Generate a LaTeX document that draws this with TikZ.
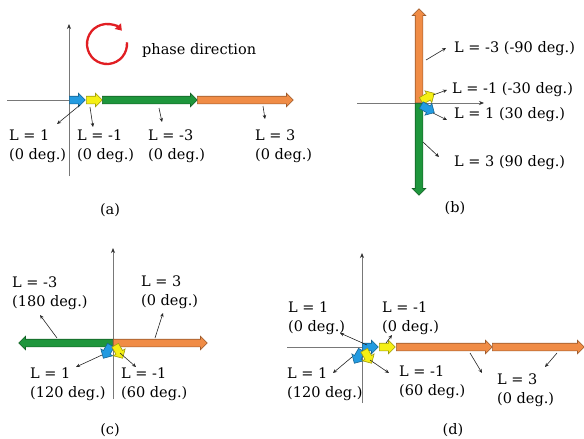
\documentclass[tikz,border=0pt]{standalone}
\usepackage{fontspec}
\setmainfont{DejaVu Serif}
\usetikzlibrary{shapes.arrows,arrows.meta,calc}
\definecolor{cblue}{RGB}{35,155,225}
\definecolor{cyel}{RGB}{245,240,20}
\definecolor{cgreen}{RGB}{30,150,60}
\definecolor{corange}{RGB}{240,140,70}
\definecolor{cred}{RGB}{225,30,35}
\definecolor{caxis}{RGB}{120,120,120}
\tikzset{
  barrow/.style={shape=single arrow, draw=#1!65!black, fill=#1, line width=0.6pt,
    inner xsep=0pt, inner ysep=3.5pt, single arrow head extend=3pt,
    single arrow tip angle=90, anchor=tail, minimum width=13pt},
  axisline/.style={draw=caxis, line width=0.8pt, -{Stealth[length=5pt,width=4pt,color=black!80]}},
  plainaxis/.style={draw=caxis, line width=0.8pt},
  leader/.style={draw=black!85, line width=0.6pt, -{Stealth[length=4pt,width=3.5pt]}},
  lbl/.style={font=\fontsize{14.5}{18.5}\selectfont, align=left, anchor=west, inner sep=0pt},
  captxt/.style={font=\fontsize{14.5}{18.5}\selectfont, inner sep=0pt}
}
\begin{document}
\begin{tikzpicture}[x=1pt,y=-1pt]
\useasboundingbox[fill=white] (0,0) rectangle (584,439);
% ---------- (a) ----------
\coordinate (oa) at (69,100);
\coordinate (axt) at (69,24);
\coordinate (axb) at (69,176);
\coordinate (axl) at (7,100);
\draw[axisline] (axb) -- (axt);
\draw[plainaxis] (axl) -- (oa);
\coordinate (rc) at (107,44);
\draw[cred, line width=2.3pt, -{Triangle[length=6pt,width=8pt]}] ($(rc)+(-5:20)$) coordinate (rs) arc[start angle=-5, end angle=318, radius=20];
\node[lbl] (phase) at (142,50) {phase direction};
\node[barrow=cblue, minimum height=16pt] (aB) at (oa) {};
\node[barrow=cyel, minimum height=16pt] (aY) at (86,100) {};
\node[barrow=cgreen, minimum height=95pt] (aG) at (102,100) {};
\node[barrow=corange, minimum height=96pt] (aO) at (197,100) {};
\node[lbl] (Ta1) at (9,146) {L = 1\\(0 deg.)};
\node[lbl] (Ta2) at (77,146) {L = -1\\(0 deg.)};
\node[lbl] (Ta3) at (148,146) {L = -3\\(0 deg.)};
\node[lbl] (Ta4) at (255,146) {L = 3\\(0 deg.)};
\coordinate (la1s) at (80,105); \coordinate (la1e) at (57,124);
\coordinate (la2s) at (90,107); \coordinate (la2e) at (93,127);
\coordinate (la3s) at (159,108); \coordinate (la3e) at (162,122);
\coordinate (la4s) at (263,106); \coordinate (la4e) at (265,119);
\draw[leader] (la1s) -- (la1e);
\draw[leader] (la2s) -- (la2e);
\draw[leader] (la3s) -- (la3e);
\draw[leader] (la4s) -- (la4e);
\node[captxt] (capa) at (110,210) {(a)};
% ---------- (b) ----------
\coordinate (ob) at (419,103);
\coordinate (bxl) at (357,103);
\coordinate (bxr) at (484,103);
\draw[axisline] (bxl) -- (bxr);
\node[barrow=corange, minimum height=94pt, rotate=90] (bO) at (ob) {};
\node[barrow=cgreen, minimum height=92pt, rotate=-90] (bG) at (ob) {};
\node[barrow=cyel, minimum height=15pt, rotate=30] (bY) at (421,101) {};
\node[barrow=cblue, minimum height=15pt, rotate=-30] (bB) at (421,105) {};
\node[lbl] (Tb1) at (454,49) {L = -3 (-90 deg.)};
\node[lbl] (Tb2) at (452,90) {L = -1 (-30 deg.)};
\node[lbl] (Tb3) at (454,115) {L = 1 (30 deg.)};
\node[lbl] (Tb4) at (454,163) {L = 3 (90 deg.)};
\coordinate (lb1s) at (426,60); \coordinate (lb1e) at (446,48);
\coordinate (lb2s) at (433,95); \coordinate (lb2e) at (447,90);
\coordinate (lb3s) at (433,113); \coordinate (lb3e) at (447,120);
\coordinate (lb4s) at (423,142); \coordinate (lb4e) at (439,157);
\draw[leader] (lb1s) -- (lb1e);
\draw[leader] (lb2s) -- (lb2e);
\draw[leader] (lb3s) -- (lb3e);
\draw[leader] (lb4s) -- (lb4e);
\node[captxt] (capb) at (455,208) {(b)};
% ---------- (c) ----------
\coordinate (oc) at (113,343);
\coordinate (cxt) at (113,248);
\coordinate (cxb) at (113,399);
\draw[axisline] (cxb) -- (cxt);
\node[barrow=cgreen, minimum height=94pt, rotate=180] (cG) at (oc) {};
\node[barrow=corange, minimum height=94pt] (cO) at (oc) {};
\node[barrow=cblue, minimum height=15pt, rotate=-120] (cB) at (111,345) {};
\node[barrow=cyel, minimum height=15pt, rotate=-60] (cY) at (115,345) {};
\node[lbl] (Tc1) at (12,293) {L = -3\\(180 deg.)};
\node[lbl] (Tc2) at (141,292) {L = 3\\(0 deg.)};
\node[lbl] (Tc3) at (30,384) {L = 1\\(120 deg.)};
\node[lbl] (Tc4) at (121,384) {L = -1\\(60 deg.)};
\coordinate (lc1s) at (57,338); \coordinate (lc1e) at (40,315);
\coordinate (lc2s) at (155,338); \coordinate (lc2e) at (163,313);
\coordinate (lc3s) at (102,355); \coordinate (lc3e) at (76,367);
\coordinate (lc4s) at (120,353); \coordinate (lc4e) at (136,367);
\draw[leader] (lc1s) -- (lc1e);
\draw[leader] (lc2s) -- (lc2e);
\draw[leader] (lc3s) -- (lc3e);
\draw[leader] (lc4s) -- (lc4e);
\node[captxt] (capc) at (110,430) {(c)};
% ---------- (d) ----------
\coordinate (od) at (362,347);
\coordinate (dxt) at (362,253);
\coordinate (dxb) at (362,403);
\coordinate (dxl) at (287,347);
\draw[axisline] (dxb) -- (dxt);
\draw[plainaxis] (dxl) -- (od);
\node[barrow=cblue, minimum height=16pt] (dB) at (od) {};
\node[barrow=cyel, minimum height=16pt] (dY) at (379,347) {};
\node[barrow=corange, minimum height=96pt] (dO1) at (396,347) {};
\node[barrow=corange, minimum height=92pt] (dO2) at (492,347) {};
\node[barrow=cblue, minimum height=15pt, rotate=-120] (dB2) at (362,350) {};
\node[barrow=cyel, minimum height=15pt, rotate=-60] (dY2) at (364,350) {};
\node[lbl] (Td1) at (288,318) {L = 1\\(0 deg.)};
\node[lbl] (Td2) at (382,318) {L = -1\\(0 deg.)};
\node[lbl] (Td3) at (287,384) {L = 1\\(120 deg.)};
\node[lbl] (Td4) at (399,382) {L = -1\\(60 deg.)};
\node[lbl] (Td5) at (497,390) {L = 3\\(0 deg.)};
\coordinate (ld1s) at (367,345); \coordinate (ld1e) at (340,333);
\coordinate (ld2s) at (386,343); \coordinate (ld2e) at (392,335);
\coordinate (ld3s) at (352,357); \coordinate (ld3e) at (333,373);
\coordinate (ld4s) at (370,360); \coordinate (ld4e) at (389,373);
\coordinate (ld5s) at (470,353); \coordinate (ld5e) at (482,373);
\coordinate (ld6s) at (557,353); \coordinate (ld6e) at (545,367);
\draw[leader] (ld1s) -- (ld1e);
\draw[leader] (ld2s) -- (ld2e);
\draw[leader] (ld3s) -- (ld3e);
\draw[leader] (ld4s) -- (ld4e);
\draw[leader] (ld5s) -- (ld5e);
\draw[leader] (ld6s) -- (ld6e);
\node[captxt] (capd) at (453,430) {(d)};
\end{tikzpicture}
\end{document}
